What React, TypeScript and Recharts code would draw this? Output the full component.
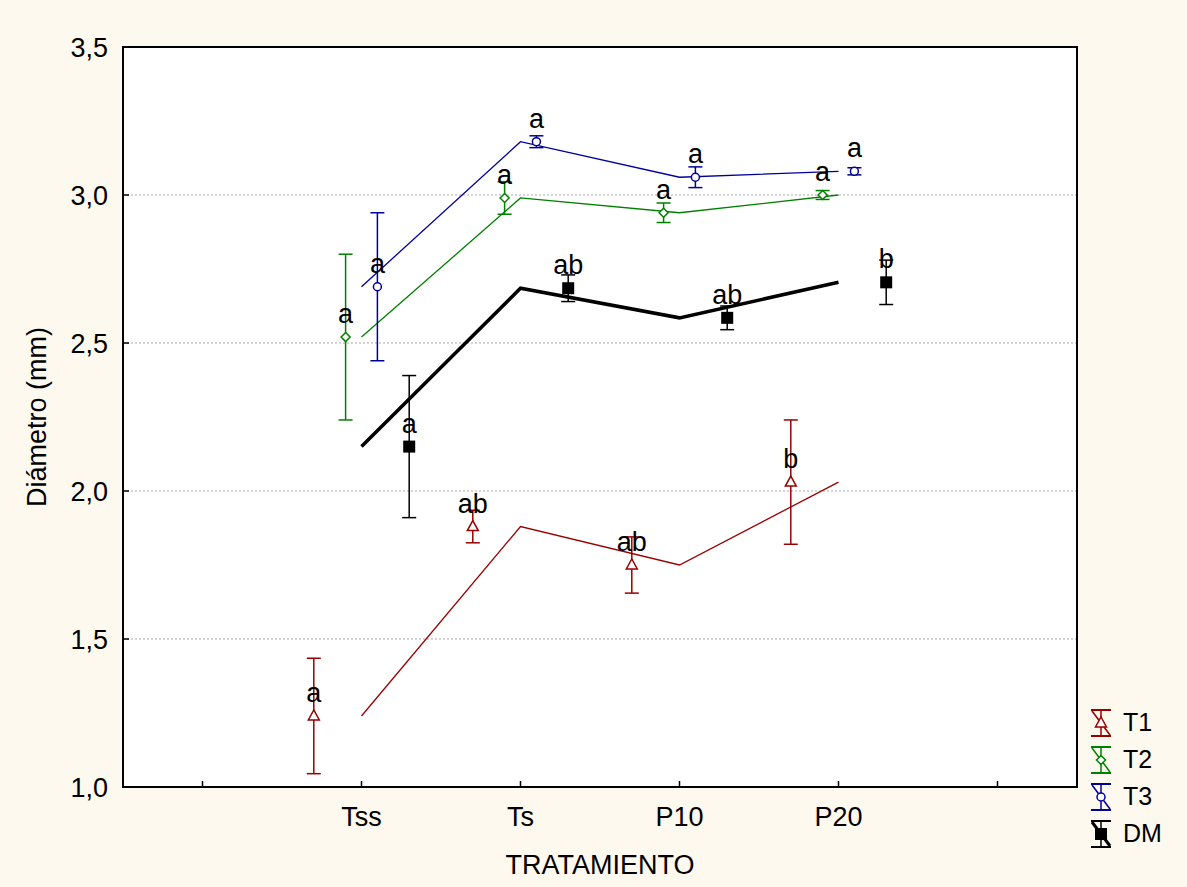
import React from 'react';
import { ComposedChart, Line, Scatter, ErrorBar, XAxis, YAxis, CartesianGrid, ReferenceArea, Legend } from 'recharts';

const categories = ['Tss', 'Ts', 'P10', 'P20'];
const yTicks = [1.0, 1.5, 2.0, 2.5, 3.0, 3.5];
const xTicks = [0.5, 1.5, 2.5, 3.5, 4.5, 5.5];

// means, +/- error and letter groups per treatment
const t1Mean = [1.24, 1.88, 1.75, 2.03];
const t1Err = [0.195, 0.055, 0.095, 0.21];
const t1Letters = ['a', 'ab', 'ab', 'b'];

const t2Mean = [2.52, 2.99, 2.94, 3.0];
const t2Err = [0.28, 0.055, 0.033, 0.015];
const t2Letters = ['a', 'a', 'a', 'a'];

const t3Mean = [2.69, 3.18, 3.06, 3.08];
const t3Err = [0.25, 0.02, 0.035, 0.012];
const t3Letters = ['a', 'a', 'a', 'a'];

const dmMean = [2.15, 2.685, 2.585, 2.705];
const dmErr = [0.24, 0.045, 0.04, 0.075];
const dmLetters = ['a', 'ab', 'ab', 'b'];

const FONT = '"Liberation Sans", Arial, sans-serif';

const series = [
    { name: 'T1', mean: t1Mean, err: t1Err, letters: t1Letters, color: '#990000', shift: -0.3, marker: 'triangle', lineWidth: 1.3 },
    { name: 'T2', mean: t2Mean, err: t2Err, letters: t2Letters, color: '#008000', shift: -0.1, marker: 'diamond', lineWidth: 1.3 },
    { name: 'T3', mean: t3Mean, err: t3Err, letters: t3Letters, color: '#000099', shift: 0.1, marker: 'circle', lineWidth: 1.3 },
    { name: 'DM', mean: dmMean, err: dmErr, letters: dmLetters, color: '#000000', shift: 0.3, marker: 'square', lineWidth: 3.5 },
];

// category i sits at i + 1.5 on a 0..6 numeric axis
const catPos = (i: number) => i + 1.5;

const drawMarker = (kind: string, cx: number, cy: number, color: string) => {
    if (kind === 'triangle') {
        return <polygon points={`${cx},${cy - 6} ${cx + 5.5},${cy + 4} ${cx - 5.5},${cy + 4}`} fill="#fff" stroke={color} strokeWidth={1.5} />;
    }
    if (kind === 'diamond') {
        return <polygon points={`${cx},${cy - 4.5} ${cx + 4.5},${cy} ${cx},${cy + 4.5} ${cx - 4.5},${cy}`} fill="#fff" stroke={color} strokeWidth={1.5} />;
    }
    if (kind === 'circle') {
        return <circle cx={cx} cy={cy} r={4} fill="#fff" stroke={color} strokeWidth={1.5} />;
    }
    return <rect x={cx - 6} y={cy - 6} width={12} height={12} fill={color} />;
};

const PointShape = (props: any) => {
    const { cx, cy, payload, kind, color } = props;
    if (cx == null || cy == null) return null;
    return (
        <g>
            {drawMarker(kind, cx, cy, color)}
            <text x={cx} y={cy - 14} textAnchor="middle" fontSize={27} fontFamily={FONT} fill="#000">
                {payload.letter}
            </text>
        </g>
    );
};

const LegendIcon = ({ kind, color }: { kind: string; color: string }) => (
    <svg width={26} height={32} style={{ display: 'block' }}>
        <line x1={3} y1={3} x2={23} y2={3} stroke={color} strokeWidth={2} />
        <line x1={3} y1={29} x2={23} y2={29} stroke={color} strokeWidth={2} />
        <line x1={13} y1={3} x2={13} y2={29} stroke={color} strokeWidth={1.5} />
        <line x1={4} y1={4} x2={22} y2={28} stroke={color} strokeWidth={kind === 'square' ? 3 : 1.5} />
        {drawMarker(kind, 13, 16, color)}
    </svg>
);

const renderLegend = () => (
    <div style={{ fontFamily: FONT, fontSize: 25, color: '#000' }}>
        {series.map(s => (
            <div key={s.name} style={{ display: 'flex', alignItems: 'center', height: 37 }}>
                <LegendIcon kind={s.marker} color={s.color} />
                <span style={{ marginLeft: 9 }}>{s.name}</span>
            </div>
        ))}
    </div>
);

export default function App() {
    return (
        <div style={{ position: 'absolute', left: 0, top: 0, width: 1187, height: 887, background: '#fdf9ef' }}>
            <ComposedChart width={1187} height={887} margin={{ top: 47, right: 110, bottom: 0, left: 0 }}>
                <CartesianGrid vertical={false} fill="#fff" stroke="#aaa" strokeDasharray="2 2" />
                <XAxis
                    type="number"
                    dataKey="x"
                    domain={[0, 6]}
                    ticks={xTicks}
                    interval={0}
                    height={100}
                    tickFormatter={(v: number) => categories[Math.round(v - 1.5)] ?? ''}
                    axisLine={false}
                    tickLine={{ stroke: '#000', strokeWidth: 1.5 }}
                    tickSize={-6}
                    tickMargin={26}
                    tick={{ fill: '#000', fontSize: 27, fontFamily: FONT }}
                    label={{ value: 'TRATAMIENTO', position: 'insideBottom', offset: 13, fill: '#000', fontSize: 27, fontFamily: FONT }}
                />
                <YAxis
                    type="number"
                    domain={[1, 3.5]}
                    ticks={yTicks}
                    interval={0}
                    width={123}
                    allowDataOverflow
                    tickFormatter={(v: number) => v.toFixed(1).replace('.', ',')}
                    axisLine={false}
                    tickLine={{ stroke: '#000', strokeWidth: 1.5 }}
                    tickSize={-6}
                    tickMargin={21}
                    tick={{ fill: '#000', fontSize: 27, fontFamily: FONT }}
                    label={{ value: 'Diámetro (mm)', angle: -90, position: 'insideLeft', offset: 36, fill: '#000', fontSize: 27, fontFamily: FONT, style: { textAnchor: 'middle' } }}
                />
                <ReferenceArea x1={0} x2={6} y1={1} y2={3.5} fill="none" stroke="#000" strokeWidth={2} />
                {series.map(s => (
                    <Line
                        key={`line-${s.name}`}
                        data={categories.map((c, i) => ({ x: catPos(i), y: s.mean[i], cat: c }))}
                        dataKey="y"
                        type="linear"
                        stroke={s.color}
                        strokeWidth={s.lineWidth}
                        dot={false}
                        activeDot={false}
                        legendType="none"
                        isAnimationActive={false}
                    />
                ))}
                {series.map(s => (
                    <Scatter
                        key={`pts-${s.name}`}
                        name={s.name}
                        data={categories.map((c, i) => ({ x: catPos(i) + s.shift, y: s.mean[i], err: s.err[i], letter: s.letters[i], cat: c }))}
                        dataKey="y"
                        fill={s.color}
                        shape={(p: any) => <PointShape {...p} kind={s.marker} color={s.color} />}
                        isAnimationActive={false}
                    >
                        <ErrorBar dataKey="err" direction="y" width={7} stroke={s.color} strokeWidth={1.5} />
                    </Scatter>
                ))}
                <Legend
                    content={renderLegend}
                    layout="vertical"
                    align="center"
                    verticalAlign="middle"
                    wrapperStyle={{ left: 1088, top: 704, width: 100 }}
                />
            </ComposedChart>
        </div>
    );
}
